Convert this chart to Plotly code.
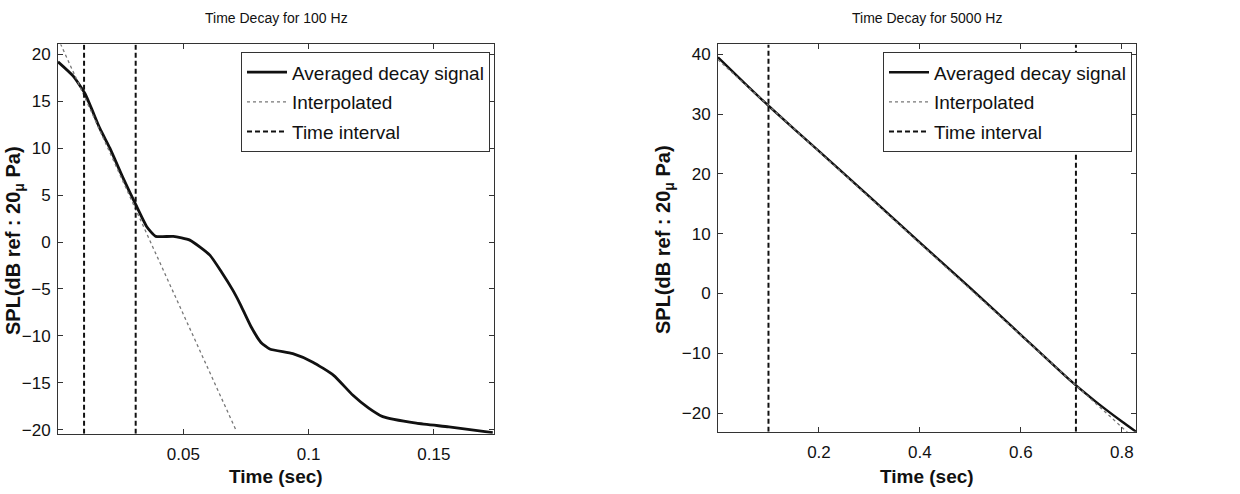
import plotly.graph_objects as go

# ---------------- data ----------------
# 100 Hz panel
t_100 = [0.0, 0.006, 0.0108, 0.0167, 0.0207, 0.026, 0.031, 0.0355, 0.039, 0.046,
         0.0526, 0.0606, 0.0655, 0.0697, 0.0725, 0.077, 0.081, 0.0845, 0.0937, 0.1017,
         0.11, 0.1176, 0.124, 0.1296, 0.143, 0.156, 0.1735]
spl_100 = [19.2, 17.7, 15.8, 12.1, 10.0, 6.8, 4.0, 1.6, 0.6, 0.6,
           0.2, -1.4, -3.3, -5.1, -6.5, -9.0, -10.7, -11.4, -11.9, -12.8,
           -14.2, -16.3, -17.7, -18.6, -19.3, -19.7, -20.3]
interp_t_100 = [0.0, 0.0713]
interp_spl_100 = [21.7, -20.2]
interval_100 = [0.0104, 0.031]

# 5000 Hz panel
t_5000 = [0.0, 0.05, 0.1, 0.2, 0.3, 0.4, 0.5, 0.6, 0.7, 0.75, 0.8, 0.828]
spl_5000 = [39.5, 35.4, 31.4, 23.8, 16.2, 8.5, 0.9, -6.9, -14.7, -18.2, -21.4, -23.1]
interp_t_5000 = [0.0, 0.828]
interp_spl_5000 = [39.1, -24.5]
interval_5000 = [0.1, 0.709]

xticks_100 = [0.05, 0.1, 0.15]
xticklabels_100 = ["0.05", "0.1", "0.15"]
yticks_100 = [-20, -15, -10, -5, 0, 5, 10, 15, 20]
xticks_5000 = [0.2, 0.4, 0.6, 0.8]
xticklabels_5000 = ["0.2", "0.4", "0.6", "0.8"]
yticks_5000 = [-20, -10, 0, 10, 20, 30, 40]

titles = ["Time Decay for 100 Hz", "Time Decay for 5000 Hz"]
ylabel = "SPL(dB ref : 20<sub>\u03bc</sub> Pa)"
xlabel = "Time (sec)"
legend_names = ["Averaged decay signal", "Interpolated", "Time interval"]

# ---------------- layout geometry ----------------
W, H = 1240, 494
FONT = "Liberation Sans, Arial, Helvetica, sans-serif"

xr_100 = [0.0, 0.174]
yr_100 = [-20.42, 21.05]
xr_5000 = [0.0, 0.828]
yr_5000 = [-23.1, 41.65]

def px_x(p):
    return p / W

def px_y(p):
    return 1 - p / H

fig = go.Figure()

def add_panel(t, spl, it, ispl, interval, yr, xa, ya, leg, lw):
    fig.add_trace(go.Scatter(x=t, y=spl, mode="lines", name=legend_names[0],
                             line=dict(color="#111111", width=lw, shape="spline", smoothing=0.5),
                             xaxis=xa, yaxis=ya, legend=leg, legendgroup=leg + "a"))
    fig.add_trace(go.Scatter(x=it, y=ispl, mode="lines", name=legend_names[1],
                             line=dict(color="#777777", width=1.3, dash="dot"),
                             xaxis=xa, yaxis=ya, legend=leg, legendgroup=leg + "b"))
    vx, vy = [], []
    for v in interval:
        vx += [v, v, None]
        vy += [yr[0], yr[1], None]
    fig.add_trace(go.Scatter(x=vx, y=vy, mode="lines", name=legend_names[2],
                             line=dict(color="#111111", width=2, dash="5px,3px"),
                             xaxis=xa, yaxis=ya, legend=leg, legendgroup=leg + "c"))

add_panel(t_100, spl_100, interp_t_100, interp_spl_100, interval_100, yr_100, "x", "y", "legend", 2.8)
add_panel(t_5000, spl_5000, interp_t_5000, interp_spl_5000, interval_5000, yr_5000, "x2", "y2", "legend2", 2.4)

axis_common = dict(showline=True, linecolor="#333333", linewidth=1, mirror="ticks",
                   ticks="inside", ticklen=5, tickcolor="#333333", showgrid=False,
                   zeroline=False, tickfont=dict(family=FONT, size=17, color="#111111"))

legend_common = dict(bgcolor="white", bordercolor="#333333", borderwidth=1,
                     font=dict(family=FONT, size=19, color="#111111"),
                     xanchor="right", yanchor="top", tracegroupgap=2,
                     itemwidth=40)

fig.update_layout(
    width=W, height=H,
    margin=dict(l=0, r=0, t=0, b=0),
    paper_bgcolor="white", plot_bgcolor="white",
    font=dict(family=FONT, color="#111111"),
    xaxis=dict(domain=[px_x(58), px_x(494)], range=xr_100, anchor="y",
               tickvals=xticks_100, ticktext=xticklabels_100, ticklabelstandoff=5,
               **axis_common),
    yaxis=dict(domain=[px_y(439), px_y(45)], range=yr_100, anchor="x",
               tickvals=yticks_100, ticklabelstandoff=3, **axis_common),
    xaxis2=dict(domain=[px_x(718), px_x(1136)], range=xr_5000, anchor="y2",
                tickvals=xticks_5000, ticktext=xticklabels_5000, ticklabelstandoff=5,
                **axis_common),
    yaxis2=dict(domain=[px_y(437), px_y(45)], range=yr_5000, anchor="x2",
                tickvals=yticks_5000, ticklabelstandoff=3, **axis_common),
    legend=dict(x=px_x(490), y=px_y(53), **legend_common),
    legend2=dict(x=px_x(1132), y=px_y(53), **legend_common),
    showlegend=True,
)

annots = [
    dict(text=titles[0], x=px_x(276), y=px_y(18)),
    dict(text=titles[1], x=px_x(927), y=px_y(18)),
]
for a in annots:
    fig.add_annotation(xref="paper", yref="paper", xanchor="center", yanchor="middle",
                       showarrow=False, font=dict(family=FONT, size=14, color="#111111"), **a)

for cx in (276, 927):
    fig.add_annotation(text="<b>" + xlabel + "</b>", xref="paper", yref="paper",
                       x=px_x(cx), y=px_y(482), xanchor="center", yanchor="middle",
                       showarrow=False, font=dict(family=FONT, size=19, color="#111111"))

for lx, cy in ((14, 244), (664, 243)):
    fig.add_annotation(text="<b>" + ylabel + "</b>", xref="paper", yref="paper",
                       x=px_x(lx), y=px_y(cy), xanchor="center", yanchor="middle",
                       textangle=-90, showarrow=False,
                       font=dict(family=FONT, size=20, color="#111111"))

fig.write_html("out.html")
